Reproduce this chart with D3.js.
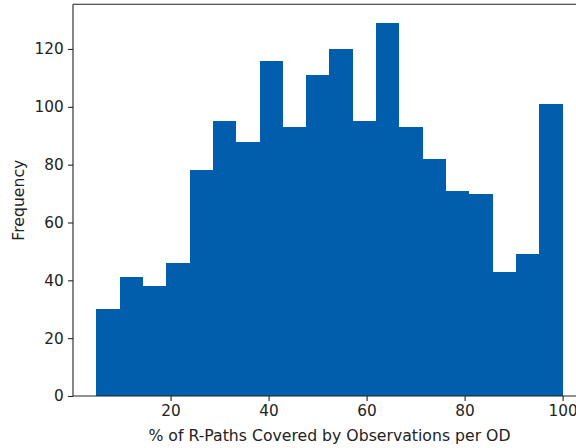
<!DOCTYPE html>
<html>
<head>
<meta charset="utf-8">
<script src="https://cdn.jsdelivr.net/npm/d3@7"></script>
<style>
  html, body { margin: 0; padding: 0; background: #fff; }
  svg { display: block; overflow: hidden; }
  text { font-family: "DejaVu Sans", sans-serif; fill: #222; }
</style>
</head>
<body>
<svg id="chart" width="576" height="448"></svg>
<script>
// Histogram counts per bin (20 equal-width bins)
const counts = [30, 41, 38, 46, 78, 95, 88, 116, 93, 111, 120, 95, 129, 93, 82, 71, 70, 43, 49, 101];
const binStart = 4.84;
const binEnd = 100;
const xTicks = [20, 40, 60, 80, 100];
const yTicks = [0, 20, 40, 60, 80, 100, 120];
const xLabel = "% of R-Paths Covered by Observations per OD";
const yLabel = "Frequency";

const barColor = "#015ead";
const tickFontSize = 15.3;
const labelFontSize = 15.7;

const binWidth = (binEnd - binStart) / counts.length;
const bins = counts.map((c, i) => ({
  x0: binStart + i * binWidth,
  x1: binStart + (i + 1) * binWidth,
  count: c
}));

// Axis limits with a 5% margin around the data, as a histogram plot would use
const xMin = binStart - 0.05 * (binEnd - binStart);
const xMax = binEnd + 0.05 * (binEnd - binStart);
const yMax = d3.max(counts) * 1.05;

// Plot area (the right edge extends past the viewport)
const plotLeft = 73, plotTop = 4.3, plotBottom = 396;
const pxPerUnit = (563 - 171) / 80;
const plotRight = plotLeft + (xMax - xMin) * pxPerUnit;

const x = d3.scaleLinear().domain([xMin, xMax]).range([plotLeft, plotRight]);
const y = d3.scaleLinear().domain([0, yMax]).range([plotBottom, plotTop]);

const svg = d3.select("#chart");

// Bars; crisp edges so neighbouring bars join without seams
svg.append("g")
  .attr("shape-rendering", "crispEdges")
  .selectAll("rect")
  .data(bins)
  .join("rect")
  .attr("x", d => x(d.x0))
  .attr("y", d => y(d.count))
  .attr("width", d => x(d.x1) - x(d.x0))
  .attr("height", d => y(0) - y(d.count))
  .attr("fill", barColor);

const tickLen = 4.9;

// X axis
const gx = svg.append("g")
  .attr("transform", `translate(0,${plotBottom})`)
  .call(d3.axisBottom(x).tickValues(xTicks).tickFormat(d3.format("d"))
    .tickSize(tickLen).tickPadding(4.4).tickSizeOuter(0));
gx.select(".domain").remove();
gx.selectAll(".tick line").attr("stroke", "#222").attr("stroke-width", 1.1);
gx.selectAll(".tick text").attr("font-size", tickFontSize).attr("font-family", "DejaVu Sans, sans-serif").attr("fill", "#222");

// Y axis
const gy = svg.append("g")
  .attr("transform", `translate(${plotLeft},0)`)
  .call(d3.axisLeft(y).tickValues(yTicks).tickFormat(d3.format("d"))
    .tickSize(tickLen).tickPadding(4.4).tickSizeOuter(0));
gy.select(".domain").remove();
gy.selectAll(".tick line").attr("stroke", "#222").attr("stroke-width", 1.1);
gy.selectAll(".tick text").attr("font-size", tickFontSize).attr("font-family", "DejaVu Sans, sans-serif").attr("fill", "#222");

// Spines: left, bottom, top, right
const spine = svg.append("g").attr("stroke", "#222").attr("stroke-width", 1.1).attr("fill", "none");
spine.append("line").attr("x1", plotLeft).attr("x2", plotLeft).attr("y1", plotTop).attr("y2", plotBottom);
spine.append("line").attr("x1", plotLeft).attr("x2", plotRight).attr("y1", plotBottom).attr("y2", plotBottom);
spine.append("line").attr("x1", plotLeft).attr("x2", plotRight).attr("y1", plotTop).attr("y2", plotTop);
spine.append("line").attr("x1", plotRight).attr("x2", plotRight).attr("y1", plotTop).attr("y2", plotBottom);

// Axis labels
svg.append("text")
  .attr("x", (plotLeft + plotRight) / 2)
  .attr("y", 440.8)
  .attr("text-anchor", "middle")
  .attr("font-size", labelFontSize)
  .text(xLabel);

svg.append("text")
  .attr("transform", `translate(23.5,${(plotTop + plotBottom) / 2}) rotate(-90)`)
  .attr("text-anchor", "middle")
  .attr("font-size", labelFontSize)
  .text(yLabel);
</script>
</body>
</html>
